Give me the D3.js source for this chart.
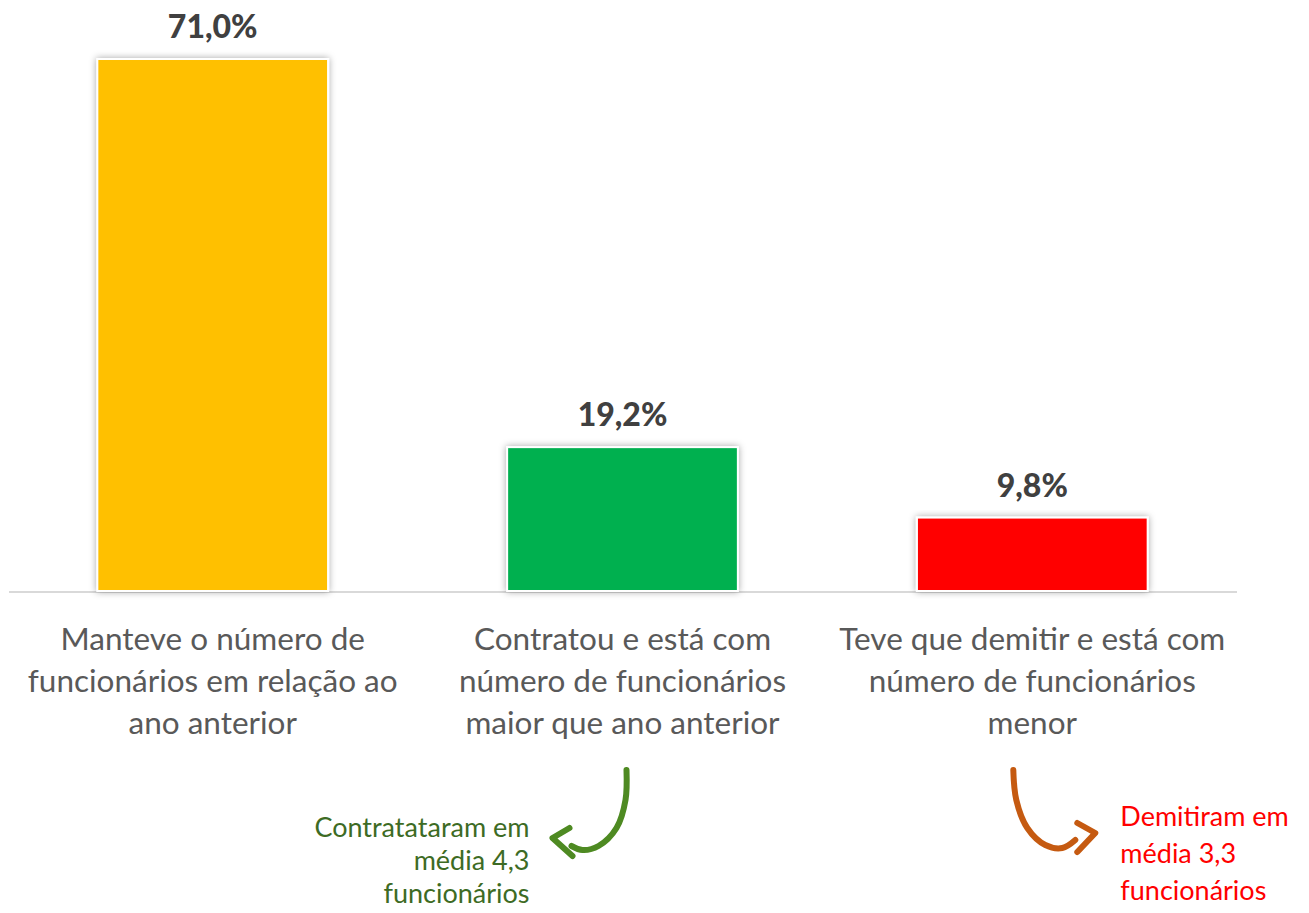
<!DOCTYPE html>
<html><head><meta charset="utf-8">
<script src="https://cdn.jsdelivr.net/npm/d3@7"></script>
<style>html,body{margin:0;padding:0;background:#fff;}svg{display:block;}</style>
</head><body>
<svg id="chart" width="1309" height="913"></svg>
<script>
const categories = ["Manteve", "Contratou", "Demitiu"];
const values = [71.0, 19.2, 9.8];
const valueLabels = ["71,0%", "19,2%", "9,8%"];
const barColors = ["#FFC000", "#00B050", "#FF0000"];
const categoryLines = [
  ["Manteve o número de", "funcionários em relação ao", "ano anterior"],
  ["Contratou e está com", "número de funcionários", "maior que ano anterior"],
  ["Teve que demitir e está com", "número de funcionários", "menor"]
];
const noteGreen = ["Contratataram em", "média 4,3", "funcionários"];
const noteRed = ["Demitiram em", "média 3,3", "funcionários"];

const W = 1309, H = 913;
const margin = {left: 8, right: 72, top: 59, bottom: 322};
const svg = d3.select("#chart");
const font = "Lato, 'Open Sans', sans-serif";

const x = d3.scaleBand().domain(categories).range([margin.left, W - margin.right]).paddingInner(0.437).paddingOuter(0.218);
const y = d3.scaleLinear().domain([0, 71]).range([H - margin.bottom, margin.top]);

const defs = svg.append("defs");
const f = defs.append("filter").attr("id", "sh").attr("x", "-10%").attr("y", "-10%").attr("width", "120%").attr("height", "120%");
f.append("feDropShadow").attr("dx", 0).attr("dy", 0).attr("stdDeviation", 3.5).attr("flood-color", "#000").attr("flood-opacity", 0.35);

// axis line
svg.append("line").attr("x1", margin.left + 1).attr("x2", W - margin.right).attr("y1", y(0) + 1).attr("y2", y(0) + 1)
  .attr("stroke", "#d9d9d9").attr("stroke-width", 2);

// bars
svg.selectAll("rect.bar").data(categories).join("rect").attr("class", "bar")
  .attr("x", d => x(d)).attr("width", x.bandwidth())
  .attr("y", (d, i) => y(values[i])).attr("height", (d, i) => y(0) - y(values[i]))
  .attr("fill", (d, i) => barColors[i]).attr("stroke", "#fff").attr("stroke-width", 2)
  .attr("filter", "url(#sh)");

// value labels
svg.selectAll("text.val").data(categories).join("text").attr("class", "val")
  .attr("x", d => x(d) + x.bandwidth() / 2).attr("y", (d, i) => y(values[i]) - 21)
  .attr("text-anchor", "middle").attr("font-family", font).attr("font-weight", 900)
  .attr("font-size", 32).attr("fill", "#404040").text((d, i) => valueLabels[i]);

// category labels
categories.forEach((c, i) => {
  const t = svg.append("text").attr("text-anchor", "middle").attr("font-family", font)
    .attr("font-size", 31.5).attr("fill", "#595959");
  categoryLines[i].forEach((ln, j) => {
    t.append("tspan").attr("x", x(c) + x.bandwidth() / 2).attr("y", y(0) + 59 + j * 42).text(ln);
  });
});

// arrows (hand drawn style)
const smooth = d3.line().curve(d3.curveCatmullRom.alpha(0.5));
const straight = d3.line();
function arrow(cx, pts, head, color) {
  const g = svg.append("g").attr("fill", "none").attr("stroke", color).attr("stroke-width", 6)
    .attr("stroke-linecap", "round").attr("stroke-linejoin", "round");
  g.append("path").attr("d", smooth(pts.map(p => [cx + p[0], p[1]])));
  g.append("path").attr("d", straight(head.map(p => [cx + p[0], p[1]])));
}
const c2 = x(categories[1]) + x.bandwidth() / 2;
const c3 = x(categories[2]) + x.bandwidth() / 2;
arrow(c2, [[4, 770], [3, 800], [-6, 828], [-24, 846], [-40, 850], [-51, 846]],
  [[-53, 828], [-70, 838], [-50, 856]], "#4e8a22");
arrow(c3, [[-19, 770], [-16, 800], [-5, 828], [13, 845], [30, 848], [43, 840]],
  [[45, 823], [63, 833], [45, 852]], "#c55a11");

// notes
const tg = svg.append("text").attr("text-anchor", "end").attr("font-family", font)
  .attr("font-size", 27).attr("fill", "#3d6b24");
noteGreen.forEach((ln, j) => tg.append("tspan").attr("x", c2 - 93).attr("y", 837 + j * 33).text(ln));
const tr = svg.append("text").attr("text-anchor", "start").attr("font-family", font)
  .attr("font-size", 27).attr("fill", "#ff0000");
noteRed.forEach((ln, j) => tr.append("tspan").attr("x", c3 + 88).attr("y", 826 + j * 37).text(ln));
</script>
</body></html>
